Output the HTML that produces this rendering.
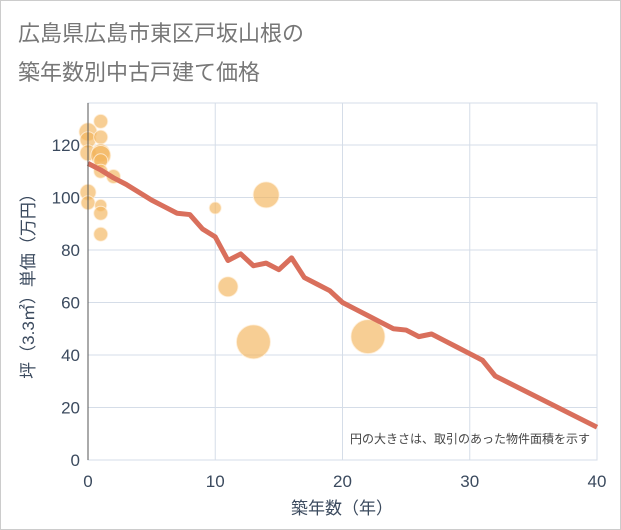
<!DOCTYPE html>
<html><head><meta charset="utf-8"><style>
body{margin:0;background:#fff}
svg{display:block;font-family:"Liberation Sans","Noto Sans CJK JP",sans-serif}
</style></head><body>
<svg id="c" width="621" height="530">
<rect x="0.5" y="0.5" width="620" height="529" fill="#fff" stroke="#ccc"/>
<text x="18" y="41" font-size="22" fill="#777">広島県広島市東区戸坂山根の</text>
<text x="18" y="80" font-size="22" fill="#777">築年数別中古戸建て価格</text>
<g id="grid"></g><g id="bub"></g><g id="ln"></g><g id="ax"></g>
<text x="590" y="443" font-size="12" fill="#444" text-anchor="end">円の大きさは、取引のあった物件面積を示す</text>
<text x="342" y="514" font-size="17" fill="#3b4a5e" text-anchor="middle">築年数（年）</text>
<text transform="translate(34,282) rotate(-90)" font-size="17" fill="#3b4a5e" text-anchor="middle">坪（3.3㎡）単価（万円）</text>
</svg>
<script>
const xTicks=[0,10,20,30,40];
const yTicks=[0,20,40,60,80,100,120];
const lineYears=[0,1,2,3,4,5,6,7,8,9,10,11,12,13,14,15,16,17,18,19,20,21,22,23,24,25,26,27,28,29,30,31,32,40];
const lineValues=[113,110.5,107.5,105,102,99,96.5,94,93.5,88,85,76,78.5,74,75,72.5,77,69.5,67,64.5,60,57.5,55,52.5,50,49.5,47,48,45.5,43,40.5,38,32,12.5];
const bubX=[0,0,1,1,0,1,1,1,1,2,0,0,1,1,1,10,14,11,13,22];
const bubY=[125,122,129,123,117,117,116,114,110,108,102,98,97,94,86,96,101,66,45,47];
const bubR=[9,8,7,7,8,9,10,7,7,7,8,7,6,7,7,6,13,10,17,17];
const X0=88,X1=597,Y0=460,YT=103;
const xs=v=>X0+(X1-X0)*v/40, ys=v=>Y0-(Y0-145)*v/120;
const NS='http://www.w3.org/2000/svg';
function mk(p,t,a){const e=document.createElementNS(NS,t);for(const k in a)e.setAttribute(k,a[k]);document.getElementById(p).appendChild(e);return e;}
const fr=mk('grid','rect',{x:X0,y:YT,width:X1-X0,height:Y0-YT,fill:'none',stroke:'#d5dde8'});


xTicks.forEach(t=>{const e=mk('grid','line',{x1:xs(t),x2:xs(t),y1:YT,y2:Y0,stroke:'#d5dde8'});


const l=mk('ax','text',{x:xs(t),y:Y0+27,'font-size':17,fill:'#3b4a5e','text-anchor':'middle'});l.textContent=t;

});
yTicks.forEach(t=>{const e=mk('grid','line',{x1:X0,x2:X1,y1:ys(t),y2:ys(t),stroke:'#d5dde8'});


const l=mk('ax','text',{x:X0-8,y:ys(t)+6,'font-size':17,fill:'#3b4a5e','text-anchor':'end'});l.textContent=t;

});
const ax=mk('ax','line',{x1:X0,x2:X0,y1:YT,y2:Y0,stroke:'#555'});


bubX.forEach((x,i)=>{const c=mk('bub','circle',{cx:xs(x),cy:ys(bubY[i]),r:bubR[i],fill:'rgba(242,180,90,0.65)',stroke:'rgba(255,240,220,0.8)','stroke-width':1});

});
const p=mk('ln','polyline',{points:lineYears.map((x,i)=>xs(x)+','+ys(lineValues[i])).join(' '),fill:'none',stroke:'#d96f5c','stroke-width':5,'stroke-linejoin':'round'});


</script>
</body></html>
